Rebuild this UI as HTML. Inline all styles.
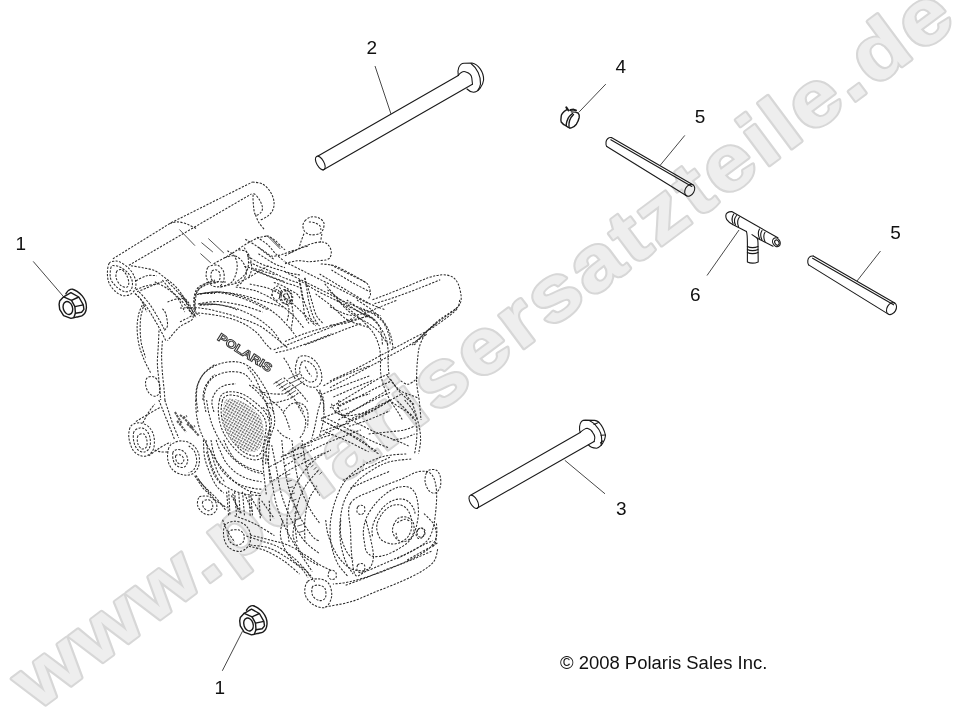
<!DOCTYPE html>
<html><head><meta charset="utf-8"><style>
html,body{margin:0;padding:0;background:#fff;width:955px;height:712px;overflow:hidden}
svg{display:block;position:absolute;left:0;top:0;filter:grayscale(1)}
.t{font-family:"Liberation Sans",sans-serif;fill:#111}
.p{fill:none;stroke:#1a1a1a;stroke-width:1.1;stroke-linecap:round;stroke-linejoin:round}
.l{fill:none;stroke:#333;stroke-width:0.9}
.e path{fill:none;stroke:#2a2a2a;stroke-width:1.05;stroke-dasharray:2.2 1.4;stroke-linecap:butt;stroke-linejoin:round}
.es path{fill:none;stroke:#444;stroke-width:0.9;stroke-linecap:round}
</style></head><body>
<svg width="955" height="712" viewBox="0 0 955 712">
<!-- WATERMARK -->
<text id="wm" transform="translate(36.4,711.6) rotate(-36.7) scale(1.12,1)" font-family="Liberation Sans" font-weight="bold" font-size="78" letter-spacing="3.15" fill="#d7d7d7" stroke="#d7d7d7" stroke-width="4" stroke-linejoin="round">www.polarisersatzteile.de</text>
<text transform="translate(36.4,711.6) rotate(-36.7) scale(1.12,1)" font-family="Liberation Sans" font-weight="bold" font-size="78" letter-spacing="3.15" fill="#eeeeee">www.polarisersatzteile.de</text>
<!-- ENGINE -->
<g class="e">
<path d="M112.9,258.8 L170.8,222.9 L252.5,182"/>
<path d="M252.5,182 C254.2,182.3 259.5,182.3 262.5,184 C265.5,185.6 268.5,188.9 270.4,191.9 C272.4,194.9 273.7,198.8 274,201.9 C274.4,205.1 273.7,208.4 272.4,210.9 C271.2,213.4 268.5,215.4 266.5,216.9 C264.5,218.4 261.5,219.4 260.5,219.9"/>
<path d="M128.9,265.3 L251.5,193.9"/>
<path d="M253.5,193.9 C254.5,192.9 258,197.6 259.5,199.9 C261,202.2 262.3,205.7 262.5,207.9 C262.6,210.1 261.6,211.7 260.5,212.9 C259.3,214 256.7,216 255.5,214.9 C254.3,213.7 253.8,209.4 253.5,205.9 C253.2,202.4 252.5,194.9 253.5,193.9Z"/>
<path d="M255.5,214.9 C256,216 257,219.4 258.5,221.9 C260,224.3 263.5,228.5 264.5,229.8"/>
<path d="M169.8,223.4 C171.3,223.2 175.6,221.6 178.7,221.9 C181.9,222.1 185.7,223.7 188.7,224.8 C191.7,226 195.3,228.2 196.7,228.8"/>
<path d="M109.1,263.4 C108,265.4 107.4,269.9 107.4,273.2 C107.4,276.5 107.8,279.9 109.1,283 C110.4,286.1 113.2,289.4 115.5,291.5 C117.8,293.6 120.5,295.3 123.2,295.7 C125.9,296.1 129.5,295.1 131.6,293.6 C133.7,292.1 135.3,289.3 135.8,286.5 C136.3,283.7 135.6,279.7 134.4,276.7 C133.2,273.7 131.2,270.8 128.8,268.3 C126.4,265.8 122.2,263.1 119.7,261.9 C117.2,260.7 115.9,260.9 114.1,261.2 C112.3,261.4 110.2,261.4 109.1,263.4Z"/>
<path d="M111.2,266.9 C110.4,268.9 109.7,274.8 110.5,278.1 C111.3,281.4 113.9,284.3 116.2,286.5 C118.5,288.7 122.1,290.9 124.6,291.5 C127,292.1 129.6,291.6 130.9,290 C132.2,288.4 132.8,284.4 132.3,281.6 C131.8,278.8 130,275.5 128.1,273.2 C126.2,270.9 123.2,268.8 121.1,267.6 C119,266.4 117.2,265.9 115.5,265.8 C113.8,265.7 112,264.8 111.2,266.9Z"/>
<path d="M116.9,271.1 C116,272.5 115.6,275.8 116.2,278.1 C116.8,280.4 118.7,283.6 120.4,285.1 C122.2,286.6 125.3,287.6 126.7,287.2 C128.1,286.8 128.8,285 128.8,283 C128.8,281 127.9,277.5 126.7,275.3 C125.5,273.1 123.4,270.4 121.8,269.7 C120.2,269 117.8,269.7 116.9,271.1Z"/>
<path d="M130.9,265.7 C132.9,266.1 138.9,266.9 142.8,267.7 C146.8,268.6 151.2,269.1 154.8,270.7 C158.5,272.4 161.5,275.2 164.8,277.7 C168.1,280.2 171.8,282.7 174.7,285.7 C177.7,288.7 180.4,292.3 182.7,295.6 C185,299 187.4,302.9 188.7,305.6 C190,308.3 190.4,310.9 190.7,312"/>
<path d="M135.9,280.7 C137.7,279.9 143.3,276.5 146.8,275.7 C150.3,274.9 155.1,275.7 156.8,275.7"/>
<path d="M135.9,289.7 C137.7,289 143,286.7 146.8,285.7 C150.7,284.7 156.8,284 158.8,283.7"/>
<path d="M134.9,293.7 C135.9,294.6 138.9,296.6 140.9,299.6 C142.8,302.7 145.8,309.9 146.8,312"/>
<path d="M154.8,281.7 C157.1,283 164.8,286.7 168.8,289.7 C172.8,292.7 176.1,295.9 178.7,299.6 C181.4,303.4 183.7,309.9 184.7,312"/>
<path d="M194.7,312 C194.9,309.6 195,301.4 195.7,297.6 C196.3,293.9 196.8,291.8 198.7,289.7 C200.5,287.5 203.7,285.8 206.6,284.7 C209.6,283.5 215,283 216.6,282.7"/>
<path d="M196.7,294.6 C199.7,294.2 208.3,292.2 214.6,292.1 C220.9,291.9 227.2,292.4 234.6,293.7 C241.9,294.9 250.1,297.3 258.5,299.6 C266.9,302 280.6,306.3 285,307.6"/>
<path d="M198.7,303.6 C202,303.3 211.3,301.3 218.6,301.6 C225.9,302 235.2,303.9 242.5,305.6 C249.8,307.3 259.1,310.9 262.5,312"/>
<path d="M207.6,267.7 C206.6,269.6 205.8,273.9 206.2,276.7 C206.7,279.5 208.6,283 210.6,284.7 C212.7,286.3 216.4,287.3 218.6,286.7 C220.8,286 222.8,283.2 223.6,280.7 C224.4,278.2 224.4,274.2 223.6,271.7 C222.8,269.2 220.4,266.8 218.6,265.7 C216.8,264.7 214.5,265 212.6,265.3 C210.8,265.7 208.7,265.8 207.6,267.7Z"/>
<path d="M211.6,271.7 C210.9,273.2 210.6,276.9 211.2,278.7 C211.9,280.5 214.2,282.5 215.6,282.7 C217,282.8 218.9,281.4 219.6,279.7 C220.3,278 220.3,274.4 219.6,272.7 C218.9,271 216.9,269.9 215.6,269.7 C214.3,269.6 212.4,270.2 211.6,271.7Z"/>
<path d="M213.6,263.7 C215.5,262.7 221.1,259.7 224.6,257.8 C228.1,255.8 230.9,254.1 234.6,251.8 C238.2,249.4 242.5,246.1 246.5,243.8 C250.5,241.5 254.8,239.1 258.5,237.8 C262.1,236.5 266.8,236.1 268.5,235.8"/>
<path d="M220.6,286.7 C222.9,286.2 230.2,285 234.6,283.7 C238.9,282.4 242.5,280.7 246.5,278.7 C250.5,276.7 254.8,273.9 258.5,271.7 C262.1,269.6 266.8,266.7 268.5,265.7"/>
<path d="M224.6,257.8 C226.3,257.4 231.6,255.1 234.6,255.8 C237.5,256.4 240.5,259.1 242.5,261.7 C244.5,264.4 246.5,268.4 246.5,271.7 C246.5,275 244.2,279.4 242.5,281.7 C240.9,284 237.5,285 236.6,285.7"/>
<path d="M238.5,249.8 C239.9,250.1 244.5,250.1 246.5,251.8 C248.5,253.4 249.7,256.8 250.5,259.7 C251.3,262.7 251.8,266.7 251.5,269.7 C251.2,272.7 249,276.4 248.5,277.7"/>
<path d="M266.5,235.8 C267.8,236.5 271.8,237.8 274.4,239.8 C277.1,241.8 280.6,246.1 282.4,247.8 C284.2,249.4 284.6,249.4 285,249.8"/>
<path d="M258.5,253.8 C261.1,255.4 270,261.4 274.4,263.7 C278.9,266.1 283.2,267.1 285,267.7"/>
<path d="M254.5,269.7 C256.8,270.7 263.4,273.7 268.5,275.7 C273.5,277.7 282.2,280.7 285,281.7"/>
<path d="M304.9,220.9 C306.3,219.4 308.6,217.4 310.9,216.9 C313.2,216.4 316.7,216.9 318.9,217.9 C321.1,218.9 323.2,220.9 323.9,222.9 C324.5,224.8 323.7,228 322.9,229.8 C322,231.7 320.9,233 318.9,233.8 C316.9,234.7 313.2,235.1 310.9,234.8 C308.6,234.5 306.3,233.3 304.9,231.8 C303.6,230.3 302.9,227.7 302.9,225.8 C302.9,224 303.6,222.4 304.9,220.9Z"/>
<path d="M308.9,221.9 C309.9,222 313.1,222.2 314.9,222.9 C316.7,223.5 318.9,224.7 319.9,225.8 C320.9,227 320.7,229.2 320.9,229.8"/>
<path d="M303.9,233.8 C303.4,235.1 301.8,239.3 300.9,241.8 C300.1,244.3 299.3,247.6 299,248.8"/>
<path d="M321.9,233.8 C321.7,234.8 321.2,238.3 320.9,239.8 C320.6,241.3 320.1,242.3 319.9,242.8"/>
<path d="M285,255.8 C287.7,254.4 296,249.9 300.9,247.8 C305.9,245.6 311.1,243.7 314.9,242.8 C318.7,241.9 321.6,241.7 323.9,242.2 C326.2,242.7 327.6,244.2 328.9,245.8 C330.1,247.4 331.1,249.8 331.3,251.8 C331.4,253.8 330.8,256.4 329.9,257.8 C329,259.1 326.5,259.7 325.9,260.1"/>
<path d="M285,263.7 C287,263.2 293,261.1 297,260.7 C300.9,260.4 305.3,261.7 308.9,261.7 C312.6,261.7 316.1,261 318.9,260.7 C321.7,260.5 324.7,260.2 325.9,260.1"/>
<path d="M289,253.4 C290.6,252.6 295.6,250 299,248.8 C302.3,247.5 307.3,246.3 308.9,245.8"/>
<path d="M372.5,299.7 C375.2,298.7 382.5,296 388.5,293.7 C394.4,291.4 401.7,288.4 408.4,285.8 C415,283.1 422.6,279.6 428.2,277.8 C433.9,276 438.2,275 442.2,274.8 C446.2,274.7 449.5,275.3 452.1,276.8 C454.8,278.3 456.6,280.6 458.1,283.8 C459.6,286.9 460.7,292.4 461.1,295.7 C461.4,299 461.1,301.3 460.1,303.7 C459.1,306 455.9,308.6 455.1,309.6"/>
<path d="M374.5,303.7 C378.2,302.5 388.8,299.4 396.4,296.7 C404,294.1 413,290.6 420.3,287.8 C427.6,284.9 436.9,281.1 440.2,279.8"/>
<path d="M455.1,309.6 C453.3,310.9 448,314.8 444.2,317.6 C440.3,320.4 435.9,323.5 432.2,326.5 C428.6,329.5 425.6,332.4 422.3,335.5 C419,338.5 414,343.4 412.3,345"/>
<path d="M436.2,323.5 C434.2,325.2 427.9,329.9 424.3,333.5 C420.6,337.1 416,343.1 414.3,345"/>
<path d="M320.8,263.9 C323.1,264.2 329.8,264.2 334.7,265.9 C339.7,267.6 345.7,271.2 350.7,273.8 C355.6,276.5 361.6,279.8 364.6,281.8 C367.6,283.8 367.6,283.8 368.6,285.8 C369.6,287.8 370.5,291.6 370.5,293.7 C370.5,295.9 368.9,297.9 368.6,298.7"/>
<path d="M330.8,264.9 L366.6,282.8"/>
<path d="M285,261.9 C288.3,263.6 298.3,268.5 304.9,271.9 C311.5,275.2 318.2,278.5 324.8,281.8 C331.4,285.1 338.1,288.4 344.7,291.7 C351.3,295 357.9,298.7 364.6,301.7 C371.2,304.7 381.2,308.3 384.5,309.6"/>
<path d="M285,271.9 C288.3,273.5 298.3,278.5 304.9,281.8 C311.5,285.1 318.2,288.4 324.8,291.7 C331.4,295 338.1,298.7 344.7,301.7 C351.3,304.7 358.6,307.3 364.6,309.6 C370.5,311.9 377.8,314.6 380.5,315.6"/>
<path d="M298.9,279.8 C301.6,281.5 308.9,286.4 314.8,289.7 C320.8,293.1 328.1,296.4 334.7,299.7 C341.4,303 348,306.3 354.6,309.6 C361.3,312.9 371.2,317.9 374.5,319.6"/>
<path d="M324.8,283.8 C326.4,285.8 331.4,291.7 334.7,295.7 C338.1,299.7 341.4,304.3 344.7,307.6 C348,310.9 350.7,312.9 354.6,315.6 C358.6,318.2 364.6,320.9 368.6,323.5 C372.5,326.2 375.2,327.9 378.5,331.5 C381.8,335.1 386.8,342.7 388.5,345"/>
<path d="M360.6,309.6 C362.6,310.3 368.9,311.6 372.5,313.6 C376.2,315.6 379.8,318.2 382.5,321.5 C385.1,324.9 387.1,329.6 388.5,333.5 C389.8,337.4 390.1,343.1 390.4,345"/>
<path d="M364.6,313.6 C366.2,314.6 371.9,316.9 374.5,319.6 C377.2,322.2 379.2,325.3 380.5,329.5 C381.8,333.7 382.2,342.4 382.5,345"/>
<path d="M298.9,279.8 C299.3,281.5 300.3,286.1 300.9,289.7 C301.6,293.4 302.2,297.4 302.9,301.7 C303.6,306 303.9,311.9 304.9,315.6 C305.9,319.2 308.2,322.2 308.9,323.5"/>
<path d="M304.9,277.8 C305.2,279.8 306.2,285.8 306.9,289.7 C307.5,293.7 307.9,297.4 308.9,301.7 C309.9,306 311.2,311.6 312.9,315.6 C314.5,319.6 317.8,323.9 318.8,325.5"/>
<path d="M285,341.4 C288.3,340.1 298.3,335.8 304.9,333.5 C311.5,331.2 318.2,329.5 324.8,327.5 C331.4,325.5 339.7,323.2 344.7,321.5 C349.7,319.9 353,318.2 354.6,317.6"/>
<path d="M304.9,345 C308.2,343.7 318.2,340 324.8,337.4 C331.4,334.9 338.7,331.8 344.7,329.5 C350.7,327.2 357.9,324.5 360.6,323.5"/>
<path d="M285,289.7 C286,291.7 289.6,297.4 291,301.7 C292.3,306 293,310.9 293,315.6 C293,320.2 291.3,327.2 291,329.5"/>
<path d="M285,297.7 C285.7,299.7 288.6,305.6 289,309.6 C289.3,313.6 287.3,319.6 287,321.5"/>
<path d="M194,309.9 C194,307.9 193.5,301.4 194,297.9 C194.5,294.4 195.3,291.3 196.9,288.9 C198.6,286.6 201.4,285.1 203.9,284 C206.4,282.8 208.2,282.3 211.9,282 C215.6,281.6 223.5,282 225.9,282"/>
<path d="M197.9,293.9 C201.6,293.6 212.9,291.6 219.9,291.9 C226.9,292.3 233.2,293.9 239.8,295.9 C246.5,297.9 253.8,300.9 259.7,303.9 C265.7,306.9 271,310.2 275.7,313.9 C280.3,317.5 284.3,322.2 287.7,325.8 C291,329.5 294.3,334.2 295.6,335.8"/>
<path d="M197.9,303.9 C201.6,304.1 212.9,303.9 219.9,304.9 C226.9,305.9 233.2,307.4 239.8,309.9 C246.5,312.4 254.1,316.2 259.7,319.9 C265.4,323.5 270,327.8 273.7,331.8 C277.4,335.8 280.3,341.8 281.7,343.8"/>
<path d="M197.9,312.9 C201.6,313.4 212.9,314.4 219.9,315.9 C226.9,317.4 233.8,319.2 239.8,321.9 C245.8,324.5 251.4,328.2 255.8,331.8 C260.1,335.5 263.1,340.8 265.7,343.8 C268.4,346.8 270.7,348.8 271.7,349.8"/>
<path d="M235.8,287 C239.1,287.6 249.4,288.8 255.8,290.9 C262.1,293.1 267.7,296.1 273.7,299.9 C279.7,303.7 286.7,309.2 291.6,313.9 C296.6,318.5 301.6,325.5 303.6,327.8"/>
<path d="M249.8,284 C253.1,284.8 263.7,286.6 269.7,288.9 C275.7,291.3 280.7,294.4 285.7,297.9 C290.7,301.4 294.6,305.2 299.6,309.9 C304.6,314.5 312.9,323.2 315.6,325.8"/>
<path d="M180,293.9 C181.3,295.3 186,299.3 188,301.9 C190,304.6 190.6,307.2 192,309.9 C193.3,312.5 195.3,316.5 195.9,317.9"/>
<path d="M180,321.9 C181.3,321.2 185.3,319.2 188,317.9 C190.6,316.5 194,314.2 195.9,313.9 C197.9,313.5 199.3,315.5 199.9,315.9"/>
<path d="M280.7,291.9 C280.2,293.3 279.4,296.1 279.7,297.9 C280,299.7 281.3,301.9 282.7,302.9 C284,303.9 286.2,304.4 287.7,303.9 C289.2,303.4 291.1,301.6 291.6,299.9 C292.1,298.3 291.5,295.6 290.7,293.9 C289.8,292.3 288,290.6 286.7,289.9 C285.3,289.3 283.7,289.6 282.7,289.9 C281.7,290.3 281.2,290.6 280.7,291.9Z"/>
<path d="M283.7,294.9 C283.3,295.9 284,298.9 284.7,299.9 C285.3,300.9 286.9,301.4 287.7,300.9 C288.4,300.4 289.4,298.1 289.3,296.9 C289.1,295.8 287.6,294.3 286.7,293.9 C285.7,293.6 284,293.9 283.7,294.9Z"/>
<path d="M271.7,295.9 C272,294.8 272.7,290.6 273.7,288.9 C274.7,287.3 276.5,286 277.7,286 C278.9,286 280.2,288.4 280.7,288.9"/>
<path d="M299.6,280 C300,281.6 301,286.6 301.6,289.9 C302.3,293.3 302.6,296.6 303.6,299.9 C304.6,303.2 306.3,306.6 307.6,309.9 C308.9,313.2 309.6,317.2 311.6,319.9 C313.6,322.5 318.2,324.8 319.6,325.8"/>
<path d="M304.6,278 C305.3,280 307.3,285.6 308.6,289.9 C309.9,294.3 311.3,299.6 312.6,303.9 C313.9,308.2 314.7,312.5 316.6,315.9 C318.4,319.2 322.4,322.5 323.5,323.8"/>
<path d="M319.6,274 C322.9,276 332.9,282 339.5,286 C346.1,289.9 354.3,294.9 359.4,297.9 C364.5,300.9 368.2,302.9 370,303.9"/>
<path d="M331.5,270 C334.8,272 345,278.3 351.5,282 C357.9,285.6 366.9,290.3 370,291.9"/>
<path d="M327.5,289.9 C330.2,291.9 338.2,298.3 343.5,301.9 C348.8,305.6 355,309.2 359.4,311.9 C363.9,314.5 368.2,316.9 370,317.9"/>
<path d="M315.6,293.9 C318.2,295.9 326.2,301.6 331.5,305.9 C336.8,310.2 341.1,316.2 347.5,319.9 C353.9,323.5 366.2,326.5 370,327.8"/>
<path d="M273.7,349.8 C276.4,348.8 283.7,346.1 289.7,343.8 C295.6,341.5 302.9,338.5 309.6,335.8 C316.2,333.2 323.5,330.2 329.5,327.8 C335.5,325.5 338.7,323.8 345.5,321.9 C352.2,319.9 365.9,316.9 370,315.9"/>
<path d="M275.7,352.8 C278.4,352.1 285.7,350.6 291.6,348.8 C297.6,346.9 304.9,344.3 311.6,341.8 C318.2,339.3 328.2,335.1 331.5,333.8"/>
<path d="M323.5,385.7 C326.2,384.3 333.5,380.4 339.5,377.7 C345.5,375 354.3,371.7 359.4,369.7 C364.5,367.7 368.2,366.4 370,365.7"/>
<path d="M323.5,393.7 C326.9,392.3 335.7,388.7 343.5,385.7 C351.2,382.7 365.6,377.4 370,375.7"/>
<path d="M197.9,412 C197.6,408.9 195.8,398.7 195.9,393.7 C196.1,388.6 197.3,385.3 198.9,381.7 C200.6,378 202.4,374.7 205.9,371.7 C209.4,368.7 214.9,365.4 219.9,363.7 C224.9,362.1 231.2,361.4 235.8,361.7 C240.5,362.1 244.5,363.7 247.8,365.7 C251.1,367.7 253.1,370.4 255.8,373.7 C258.4,377 261.4,381.7 263.7,385.7 C266.1,389.7 268.1,393.3 269.7,397.6 C271.4,402 273,409.6 273.7,412"/>
<path d="M205.9,412 C205.6,409.6 203.6,402.4 203.9,397.6 C204.3,392.9 205.9,387.3 207.9,383.7 C209.9,380 212.2,377.7 215.9,375.7 C219.5,373.7 225.2,372 229.8,371.7 C234.5,371.4 240.1,372 243.8,373.7 C247.5,375.4 250.4,380.4 251.8,381.7"/>
<path d="M213.9,412 C213.6,410.3 211.6,405 211.9,401.6 C212.2,398.2 213.9,394.3 215.9,391.7 C217.9,389 220.5,387 223.9,385.7 C227.2,384.3 233.8,384 235.8,383.7"/>
<path d="M275.7,381.7 C277.7,383.3 283.7,387.7 287.7,391.7 C291.6,395.6 297,402.2 299.6,405.6 C302.3,409 302.9,410.9 303.6,412"/>
<path d="M283.7,377.7 C286,379.7 293.6,385.7 297.6,389.7 C301.6,393.7 305.9,399.6 307.6,401.6"/>
<path d="M319.6,389.7 C320.2,391.3 322.9,395.9 323.5,399.6 C324.2,403.4 323.5,409.9 323.5,412"/>
<path d="M335.5,412 C336.2,410.9 336.8,407.7 339.5,405.6 C342.2,403.6 346.4,401.6 351.5,399.6 C356.5,397.6 366.9,394.6 370,393.7"/>
<path d="M296.9,360.9 C296.2,363.2 295,367.5 295.5,370.7 C295.9,374 297.6,378 299.7,380.6 C301.8,383.1 305.3,385.1 308.1,386.2 C310.9,387.2 314.3,387.8 316.5,386.9 C318.8,385.9 320.7,383.3 321.5,380.6 C322.2,377.9 321.8,374 320.7,370.7 C319.7,367.5 317.5,363.4 315.1,360.9 C312.8,358.4 309.3,356.7 306.7,356 C304.1,355.3 301.3,355.9 299.7,356.7 C298,357.5 297.6,358.6 296.9,360.9Z"/>
<path d="M301.1,363.7 C300.4,365.3 299.3,368.4 299.7,370.7 C300,373.1 301.5,375.9 303.2,377.8 C304.8,379.6 307.5,381.5 309.5,382 C311.5,382.4 313.8,381.7 315.1,380.6 C316.4,379.4 317.2,377.1 317.2,374.9 C317.2,372.8 316.4,370 315.1,367.9 C313.8,365.8 311.4,363.5 309.5,362.3 C307.6,361.1 305.3,360.7 303.9,360.9 C302.5,361.1 301.8,362.1 301.1,363.7Z"/>
<path d="M305.3,366.5 C305.8,367.5 307,370.5 308.1,372.1 C309.2,373.8 311,375.6 311.6,376.3"/>
<path d="M129.9,427.9 C129.1,430.2 128.4,434.2 128.9,437.9 C129.4,441.5 130.9,446.9 132.9,449.9 C134.9,452.9 138.2,455 140.9,455.8 C143.5,456.7 146.7,456.2 148.8,454.8 C151,453.5 153,451 153.8,447.9 C154.6,444.7 154.6,439.4 153.8,435.9 C153,432.4 151,429.1 148.8,426.9 C146.7,424.8 143.3,423.4 140.9,422.9 C138.4,422.4 135.7,423.1 133.9,423.9 C132,424.8 130.7,425.6 129.9,427.9Z"/>
<path d="M133.9,431.9 C132.9,434.2 133.2,438.9 133.9,441.9 C134.5,444.9 136,448.2 137.9,449.9 C139.7,451.5 142.8,452.4 144.8,451.9 C146.8,451.4 149,449.4 149.8,446.9 C150.7,444.4 150.5,439.7 149.8,436.9 C149.2,434.1 147.5,431.4 145.8,429.9 C144.2,428.4 141.9,427.6 139.9,427.9 C137.9,428.3 134.9,429.6 133.9,431.9Z"/>
<path d="M137.9,435.9 C136.9,437.6 137.2,441.7 137.9,443.9 C138.5,446 140.4,448.4 141.9,448.9 C143.3,449.4 145.6,448.4 146.4,446.9 C147.3,445.4 147.3,442 146.8,439.9 C146.4,437.7 145.3,434.6 143.8,433.9 C142.4,433.2 138.9,434.2 137.9,435.9Z"/>
<path d="M135.9,421.5 C137.7,420.4 142.7,417.4 146.8,415 C151,412.5 158.5,408.3 160.8,407"/>
<path d="M148.8,455.8 C150.2,454.8 153.8,451.9 156.8,449.9 C159.8,447.9 164.4,445 166.8,443.9 C169.1,442.7 170.1,443 170.8,442.9"/>
<path d="M168.8,447.9 C167.8,450.7 167.1,456.2 167.8,459.8 C168.4,463.5 170.3,467.3 172.8,469.8 C175.2,472.3 179.4,474.1 182.7,474.8 C186,475.5 190,475.3 192.7,473.8 C195.3,472.3 197.7,469.1 198.7,465.8 C199.7,462.5 199.7,457.3 198.7,453.8 C197.7,450.4 195.3,447 192.7,444.9 C190,442.7 185.9,441.2 182.7,440.9 C179.6,440.6 176.1,441.7 173.8,442.9 C171.4,444 169.8,445 168.8,447.9Z"/>
<path d="M172.8,452.9 C172.4,454.8 172.8,459.5 173.8,461.8 C174.7,464.2 176.9,466 178.7,466.8 C180.6,467.6 183.2,467.8 184.7,466.8 C186.2,465.8 187.5,463 187.7,460.8 C187.9,458.7 186.9,455.7 185.7,453.8 C184.6,452 182.4,450.5 180.7,449.9 C179.1,449.2 177.1,449.4 175.7,449.9 C174.4,450.4 173.1,450.9 172.8,452.9Z"/>
<path d="M175.7,455.8 C175.2,457 175.9,460.5 176.7,461.8 C177.6,463.2 179.6,464 180.7,463.8 C181.9,463.7 183.4,462 183.7,460.8 C184.1,459.7 183.4,457.8 182.7,456.8 C182.1,455.8 180.9,455 179.7,454.8 C178.6,454.7 176.2,454.7 175.7,455.8Z"/>
<path d="M188.7,445.9 C189.7,446.9 193.4,449.2 194.7,451.9 C196,454.5 196.8,458.8 196.7,461.8 C196.5,464.8 195,468 193.7,469.8 C192.4,471.6 189.5,472.3 188.7,472.8"/>
<path d="M158.8,400 C159.5,401.7 161.5,406.6 162.8,410 C164.1,413.3 165.4,416.6 166.8,419.9 C168.1,423.3 169.4,426.6 170.8,429.9 C172.1,433.2 174.1,438.2 174.7,439.9"/>
<path d="M164.8,400 C165.4,402 167.4,408 168.8,412 C170.1,416 171.1,419.6 172.8,423.9 C174.4,428.3 177.7,435.6 178.7,437.9"/>
<path d="M195.7,400 C195.8,402.7 195.8,410.6 196.7,416 C197.5,421.3 198.7,426.6 200.7,431.9 C202.7,437.2 205.7,442.5 208.6,447.9 C211.6,453.2 214.6,458.5 218.6,463.8 C222.6,469.1 227.9,475.5 232.6,479.8 C237.2,484.1 241.9,487.4 246.5,489.7 C251.2,492.1 258.2,493.1 260.5,493.7"/>
<path d="M206.6,400 C207,402 207.6,407.6 208.6,412 C209.6,416.3 210.6,420.9 212.6,425.9 C214.6,430.9 217.6,436.9 220.6,441.9 C223.6,446.9 226.9,451.9 230.6,455.8 C234.2,459.8 238.5,463.2 242.5,465.8 C246.5,468.5 250.8,470.5 254.5,471.8 C258.2,473.1 262.8,473.5 264.5,473.8"/>
<path d="M198.7,497.7 C197.7,499.3 197,503.2 197.7,505.7 C198.3,508.2 200.5,511.2 202.7,512.7 C204.8,514.2 208.3,515.2 210.6,514.7 C213,514.2 215.8,511.9 216.6,509.7 C217.4,507.5 216.8,503.9 215.6,501.7 C214.5,499.6 211.6,497.7 209.6,496.7 C207.6,495.8 205.5,496 203.7,496.1 C201.8,496.3 199.7,496.1 198.7,497.7Z"/>
<path d="M202.7,501.7 C202,503 202.7,506.2 203.7,507.7 C204.7,509.2 207.1,510.7 208.6,510.7 C210.1,510.7 212.1,509.2 212.6,507.7 C213.1,506.2 212.5,503 211.6,501.7 C210.8,500.4 209.1,499.7 207.6,499.7 C206.1,499.7 203.3,500.4 202.7,501.7Z"/>
<path d="M198.7,479.8 L206.6,489.7 L214.6,499.7 L226.6,507.7"/>
<path d="M194.7,475.8 L202.7,487.8 L210.6,495.7"/>
<path d="M206.6,451.9 C207.3,454.2 209.3,461.8 210.6,465.8 C212,469.8 213,472.8 214.6,475.8 C216.3,478.8 219.6,482.4 220.6,483.8"/>
<path d="M210.6,449.9 C211.3,452.2 213.3,459.8 214.6,463.8 C216,467.8 216.9,470.8 218.6,473.8 C220.3,476.8 223.6,480.4 224.6,481.8"/>
<path d="M262.5,459.8 C262.8,463.2 263.8,473.8 264.5,479.8 C265.1,485.8 266.1,493.1 266.5,495.7"/>
<path d="M270.4,429.9 C270.1,434.9 268.5,450.9 268.5,459.8 C268.5,468.8 270.1,479.8 270.4,483.8"/>
<path d="M222.6,519.7 C223.3,521.3 224.6,525.9 226.6,529.6 C228.6,533.4 233.2,539.9 234.6,542"/>
<path d="M234.6,515.7 C237.9,517 247.9,520.3 254.5,523.7 C261.1,527 271.1,533.6 274.4,535.6"/>
<path d="M226.6,491.7 L228.6,515.7"/>
<path d="M234.6,491.7 L236.6,515.7"/>
<path d="M242.5,491.7 L244.5,515.7"/>
<path d="M250.5,491.7 L252.5,515.7"/>
<path d="M232.6,493.7 L238.5,511.7"/>
<path d="M244.5,493.7 L252.5,511.7"/>
<path d="M142.8,422.9 C143.8,421.1 146.8,415.1 148.8,412 C150.8,408.8 153.8,405.3 154.8,404"/>
<path d="M154.8,449.9 C155.8,450.2 158.5,451.5 160.8,451.9 C163.1,452.2 167.4,451.9 168.8,451.9"/>
<path d="M285,455.8 C288.3,453.8 298.3,447.5 304.9,443.9 C311.6,440.2 318.2,437.2 324.9,433.9 C331.5,430.6 338.2,427.3 344.8,423.9 C351.5,420.6 358.8,417 364.7,414 C370.7,411 376.4,408.3 380.7,406 C385,403.7 389,401 390.7,400"/>
<path d="M285,465.8 C288.3,463.8 298.3,457.5 304.9,453.8 C311.6,450.2 318.2,446.9 324.9,443.9 C331.5,440.9 338.8,438.2 344.8,435.9 C350.8,433.6 358.1,430.9 360.8,429.9"/>
<path d="M320.9,419.9 C324.2,421.6 334.2,426.6 340.8,429.9 C347.5,433.2 355.4,436.6 360.8,439.9 C366.1,443.2 369.7,447.5 372.7,449.9 C375.7,452.2 377.7,453.2 378.7,453.8"/>
<path d="M324.9,431.9 C328.2,433.2 338.8,437.2 344.8,439.9 C350.8,442.5 356.8,445.9 360.8,447.9 C364.7,449.9 367.4,451.2 368.7,451.9"/>
<path d="M334.8,412 C338.2,413.6 348.1,418.6 354.8,421.9 C361.4,425.3 368.1,428.9 374.7,431.9 C381.4,434.9 389,437.6 394.7,439.9 C400.3,442.2 406.3,444.9 408.6,445.9"/>
<path d="M338.8,400 C338.8,401.7 337.8,407 338.8,410 C339.8,413 343.8,416.6 344.8,417.9"/>
<path d="M388.7,400 C390.7,401.3 396.6,405.3 400.6,408 C404.6,410.6 409.9,413 412.6,416 C415.3,418.9 415.9,421.9 416.6,425.9 C417.2,429.9 416.9,435.2 416.6,439.9 C416.3,444.5 414.9,451.5 414.6,453.8"/>
<path d="M404.6,400 C406,401.7 410.3,406 412.6,410 C414.9,414 417.2,418.9 418.6,423.9 C419.9,428.9 420.6,434.9 420.6,439.9 C420.6,444.9 418.9,451.5 418.6,453.8"/>
<path d="M368.7,433.9 C372.1,433.6 382.7,432.6 388.7,431.9 C394.7,431.2 400.3,430.9 404.6,429.9 C408.9,428.9 412.9,426.6 414.6,425.9"/>
<path d="M392.7,439.9 C394.7,439.6 401,438.9 404.6,437.9 C408.3,436.9 412.9,434.6 414.6,433.9"/>
<path d="M289,542 C288.7,538.3 286.7,527.4 287,519.7 C287.3,512 288.7,503 291,495.7 C293.3,488.4 297,481.8 300.9,475.8 C304.9,469.8 309.9,464.2 314.9,459.8 C319.9,455.5 328.2,451.5 330.9,449.9"/>
<path d="M297,542 C296.6,538.3 294.6,526.7 295,519.7 C295.3,512.6 297,505.7 299,499.7 C300.9,493.7 303.6,488.8 306.9,483.8 C310.3,478.8 316.9,472.1 318.9,469.8"/>
<path d="M304.9,542 C304.9,538.3 304.3,526.7 304.9,519.7 C305.6,512.6 306.9,505.4 308.9,499.7 C310.9,494.1 315.6,488.1 316.9,485.8"/>
<path d="M406.2,453.9 C402.4,454.3 390.6,454.5 383.4,456.4 C376.3,458.3 369.5,461.3 363.2,465.3 C356.9,469.3 350.1,474.6 345.5,480.4 C340.9,486.3 337.9,493.5 335.4,500.7 C332.9,507.8 331,515.8 330.3,523.4 C329.7,531 330.3,539.4 331.6,546.2 C332.9,552.9 335.2,558.8 337.9,563.9 C340.7,568.9 346.3,574.4 348,576.5"/>
<path d="M411.2,459 C407.8,459.4 396.9,460 391,461.5 C385.1,463 381.3,464.6 375.8,467.8 C370.4,471 363.2,475.4 358.1,480.4 C353.1,485.5 348.4,491.8 345.5,498.1 C342.5,504.5 341.3,511.2 340.4,518.4 C339.6,525.5 339.6,534 340.4,541.1 C341.3,548.3 343.4,555.9 345.5,561.3 C347.6,566.8 351.8,571.9 353.1,574"/>
<path d="M350.6,503.2 C354.8,496.2 367.4,493.3 375.8,489.3 C384.3,485.3 393.9,482.1 401.1,479.2 C408.3,476.2 413.7,472.4 418.8,471.6 C423.9,470.8 428.5,471 431.4,474.1 C434.4,477.3 435.9,483.6 436.5,490.6 C437.1,497.5 436.1,508.7 435.2,515.8 C434.4,523 433.3,528.9 431.4,533.5 C429.5,538.2 428.1,540.3 423.9,543.7 C419.6,547 412.9,550.4 406.2,553.8 C399.4,557.1 390.2,560.9 383.4,563.9 C376.7,566.8 370.4,569.6 365.7,571.5 C361.1,573.4 357.9,577.8 355.6,575.3 C353.3,572.7 352.7,563.7 351.8,556.3 C351,548.9 350.8,539.9 350.6,531 C350.3,522.2 346.3,510.2 350.6,503.2Z"/>
<path d="M357.6,507 C357,508.1 356.6,510.8 357.1,512.1 C357.6,513.3 359.4,514.6 360.7,514.6 C361.9,514.6 363.8,513.3 364.5,512.1 C365.1,510.8 365,508.1 364.5,507 C363.9,505.9 362.3,505.2 361.2,505.2 C360,505.2 358.3,505.9 357.6,507Z"/>
<path d="M417.8,529.7 C417.1,530.9 416.8,533.5 417.3,534.8 C417.8,536.1 419.6,537.3 420.8,537.3 C422,537.3 424,536.1 424.6,534.8 C425.2,533.5 425.2,530.9 424.6,529.7 C424.1,528.6 422.5,528 421.3,528 C420.2,528 418.5,528.6 417.8,529.7Z"/>
<path d="M357.6,565.1 C357,566.3 356.6,568.9 357.1,570.2 C357.6,571.5 359.4,572.7 360.7,572.7 C361.9,572.7 363.8,571.5 364.5,570.2 C365.1,568.9 365,566.3 364.5,565.1 C363.9,564 362.3,563.4 361.2,563.4 C360,563.4 358.3,564 357.6,565.1Z"/>
<path d="M426.4,472.9 C425.5,474.8 424.7,478.8 425.1,481.7 C425.5,484.7 427.2,488.7 428.9,490.6 C430.6,492.5 433.3,493.7 435.2,493.1 C437.1,492.5 439.4,489.5 440.3,486.8 C441.1,484 440.9,479.4 440.3,476.7 C439.7,473.9 438.2,471.5 436.5,470.3 C434.8,469.2 431.9,469.4 430.2,469.8 C428.5,470.3 427.2,470.9 426.4,472.9Z"/>
<path d="M436.5,523.4 C436.5,525.5 437.3,532.3 436.5,536.1 C435.7,539.9 434,543.2 431.4,546.2 C428.9,549.1 426.4,550.8 421.3,553.8 C416.3,556.7 408.7,560.5 401.1,563.9 C393.5,567.2 384.3,571 375.8,574 C367.4,576.9 357.7,579.9 350.6,581.6 C343.4,583.3 335.8,583.7 332.9,584.1"/>
<path d="M431.4,551.2 C428.1,552.7 418,557.3 411.2,560.1 C404.5,562.8 398.6,564.7 391,567.7 C383.4,570.6 373.3,574.8 365.7,577.8 C358.1,580.7 348.9,584.1 345.5,585.4"/>
<path d="M307.6,581.6 C305.1,584.1 304.2,590.4 305.1,594.2 C305.9,598 309.3,602.1 312.6,604.3 C316,606.5 322.1,608.6 325.3,607.4 C328.4,606.1 331,600.6 331.6,596.7 C332.2,592.9 331,587.1 329.1,584.1 C327.2,581.2 323.8,579.5 320.2,579 C316.6,578.6 310.1,579 307.6,581.6Z"/>
<path d="M312.6,586.6 C311.4,588.3 311.6,593.2 312.6,595.5 C313.7,597.8 316.9,600.1 319,600.5 C321.1,601 324.2,599.9 325.3,598 C326.3,596.1 326.1,591.3 325.3,589.2 C324.4,587.1 322.3,585.8 320.2,585.4 C318.1,584.9 313.9,584.9 312.6,586.6Z"/>
<path d="M329.1,571.5 C328.4,572.5 327.9,575.2 328.3,576.5 C328.7,577.9 330.3,579.3 331.6,579.6 C332.9,579.8 335.2,578.9 335.9,577.8 C336.6,576.6 336.5,574 335.9,572.7 C335.3,571.5 333.5,570.4 332.4,570.2 C331.2,570 329.7,570.4 329.1,571.5Z"/>
<path d="M325.3,606.9 C329.5,606 342.1,604.3 350.6,601.8 C359,599.3 367.4,595.1 375.8,591.7 C384.3,588.3 393.5,584.9 401.1,581.6 C408.7,578.2 415.9,574.8 421.3,571.5 C426.8,568.1 431.2,565.1 434,561.3 C436.7,557.6 437.1,550.8 437.8,548.7"/>
<path d="M364.5,542.9 C363.9,539.4 363,534.9 363.4,530.6 C363.7,526.3 364.9,521.4 366.7,517.1 C368.6,512.8 371.6,508.5 374.6,504.7 C377.6,501 381.2,497.4 384.7,494.6 C388.3,491.8 392.2,489.2 396,487.9 C399.7,486.6 404.2,486.2 407.2,486.7 C410.2,487.3 412.2,489 413.9,491.2 C415.6,493.5 416.6,496.5 417.3,500.2 C418.1,504 418.6,509.2 418.4,513.7 C418.2,518.2 417.1,523.4 416.2,527.2 C415.2,530.9 414.3,533.6 412.8,536.2 C411.3,538.8 409.8,540.7 407.2,542.9 C404.6,545.2 400.8,547.6 397.1,549.7 C393.3,551.7 388.7,554.2 384.7,555.3 C380.8,556.4 376.5,557 373.5,556.4 C370.5,555.8 368.2,554.2 366.7,551.9 C365.2,549.7 365.1,546.5 364.5,542.9Z"/>
<path d="M372.4,536.2 C372.4,534.7 371.6,530.6 372.4,527.2 C373.1,523.8 374.8,519.5 376.9,516 C378.9,512.4 381.9,508.5 384.7,505.8 C387.5,503.2 390.7,501.3 393.7,500.2 C396.7,499.1 400.1,498.7 402.7,499.1 C405.3,499.5 407.6,500.8 409.4,502.5 C411.3,504.2 413,507.3 413.9,509.2 C414.9,511.1 414.9,513 415.1,513.7"/>
<path d="M378,533.9 C377,531.3 376.3,528.1 376.9,524.9 C377.4,521.8 379.3,517.8 381.3,514.8 C383.4,511.8 386.4,508.7 389.2,507 C392,505.3 395.4,504.5 398.2,504.7 C401,504.9 404,506.2 406.1,508.1 C408.1,510 409.6,512.8 410.6,516 C411.5,519.1 412.1,523.8 411.7,527.2 C411.3,530.6 410,533.7 408.3,536.2 C406.6,538.6 404.2,540.5 401.6,541.8 C399,543.1 395.8,544.2 392.6,544 C389.4,543.9 384.9,542.4 382.5,540.7 C380,539 378.9,536.6 378,533.9Z"/>
<path d="M393.7,524.9 C394.6,522.7 396.1,519.5 398.2,518.2 C400.3,516.9 403.6,516.5 406.1,517.1 C408.5,517.6 411.5,519.3 412.8,521.6 C414.1,523.8 414.3,527.8 413.9,530.6 C413.6,533.4 412.4,536.6 410.6,538.4 C408.7,540.3 405.1,541.8 402.7,541.8 C400.3,541.8 397.6,540.1 396,538.4 C394.3,536.7 393,533.9 392.6,531.7 C392.2,529.4 392.8,527.2 393.7,524.9Z"/>
<path d="M397.1,522.7 C398.4,522.1 402.7,519.5 404.9,519.3 C407.2,519.1 409.6,521.2 410.6,521.6"/>
<path d="M396,532.8 L397.1,538.4"/>
<path d="M417.3,530.6 C416.7,531.7 416,533.7 416.2,535.1 C416.4,536.4 417.4,538.1 418.4,538.4 C419.5,538.8 421.3,538.2 422.4,537.3 C423.4,536.4 424.5,534.2 424.6,532.8 C424.7,531.4 423.8,529.6 422.9,528.9 C422.1,528.1 420.5,528 419.6,528.3 C418.6,528.6 417.9,529.4 417.3,530.6Z"/>
<path d="M424,513.7 C425,514.6 428,517.5 429.7,519.3 C431.3,521.2 433,522.5 434.2,524.9 C435.3,527.4 436.2,530.9 436.4,533.9 C436.6,536.9 436,540.7 435.3,542.9 C434.5,545.2 432.5,546.7 431.9,547.4"/>
<path d="M397.1,558.7 C399.3,557.5 406.3,554.2 410.6,551.9 C414.9,549.7 419.2,547 422.9,545.2 C426.7,543.3 431.3,541.4 433,540.7"/>
<path d="M407.2,560 C409.3,558.8 415.4,555.3 419.6,553 C423.7,550.7 428.9,548 431.9,546.3 C434.9,544.6 436.6,543.5 437.5,542.9"/>
<path d="M225.1,525 C223.2,527.7 223.2,533.8 223.9,537.6 C224.5,541.3 226.2,545.3 228.9,547.6 C231.6,549.9 236.9,551.8 240.2,551.4 C243.6,551 247.3,548 249,545.1 C250.7,542.2 250.9,537.2 250.3,533.8 C249.6,530.5 247.7,527.1 245.2,525 C242.7,522.9 238.5,521.3 235.2,521.3 C231.8,521.3 227,522.3 225.1,525Z"/>
<path d="M228.9,531.3 C227.2,533 227.9,537.8 228.9,540.1 C229.9,542.4 232.9,544.7 235.2,545.1 C237.5,545.5 241.3,544.3 242.7,542.6 C244.2,540.9 244.6,537.2 244,535.1 C243.4,533 241.5,530.7 239,530 C236.4,529.4 230.6,529.6 228.9,531.3Z"/>
<path d="M250.3,535.1 C253.6,535.9 264.1,538.4 270.4,540.1 C276.6,541.8 282.1,542.6 288,545.1 C293.8,547.6 300.1,551.8 305.5,555.2 C311,558.5 316.4,562.7 320.6,565.2 C324.8,567.7 329,569.4 330.7,570.2"/>
<path d="M250.3,545.1 C253.2,545.5 262.4,546 267.9,547.6 C273.3,549.3 277.5,551.8 282.9,555.2 C288.4,558.5 296.3,563.9 300.5,567.7 C304.7,571.5 306.8,576.1 308.1,577.8"/>
<path d="M282.9,520 C282.5,522.5 280,530 280.4,535.1 C280.8,540.1 282.9,545.5 285.4,550.1 C288,554.7 292.1,559.3 295.5,562.7 C298.8,566 303,567.7 305.5,570.2 C308.1,572.7 309.7,576.5 310.6,577.8"/>
<path d="M295.5,520 C295.1,522.5 292.6,530.5 293,535.1 C293.4,539.7 295.9,543.9 298,547.6 C300.1,551.4 302.2,554.7 305.5,557.7 C308.9,560.6 316,563.9 318.1,565.2"/>
<path d="M325.7,520 C326.1,522.5 326.5,529.6 328.2,535.1 C329.8,540.5 332.8,547.6 335.7,552.6 C338.6,557.7 342.4,562.3 345.8,565.2 C349.1,568.1 352,569.6 355.8,570.2 C359.6,570.9 365.4,571.1 368.4,569 C371.3,566.9 373,562.5 373.4,557.7 C373.8,552.9 372.1,546.4 370.9,540.1 C369.6,533.8 366.7,523.3 365.9,520"/>
<path d="M340.7,520 C340.7,522.5 339.9,530 340.7,535.1 C341.6,540.1 343.7,546 345.8,550.1 C347.9,554.3 352,558.5 353.3,560.2"/>
<path d="M135.4,293.5 C137.1,295.4 142.5,301.1 145.6,305.3 C148.7,309.5 151.5,314.6 154,318.8 C156.5,323 158.8,326.9 160.7,330.6 C162.7,334.2 164.9,339 165.8,340.7"/>
<path d="M139.2,291.8 C140.8,293.8 146.2,299.4 149.3,303.6 C152.4,307.8 155.2,312.9 157.7,317.1 C160.2,321.3 163,326.9 164.1,328.9"/>
<path d="M162.4,280 C163.8,281.7 167.8,286.7 170.8,290.1 C173.9,293.5 177.9,296.9 181,300.2 C184,303.6 186.9,307.5 189.4,310.3 C191.9,313.1 195,316 196.1,317.1"/>
<path d="M165.8,280 C167.5,281.7 172.5,286.5 175.9,290.1 C179.3,293.8 182.9,298 186,301.9 C189.1,305.8 193,311.7 194.4,313.7"/>
<path d="M142.2,305.3 C141.6,306.7 139.7,310.1 138.8,313.7 C138,317.4 137.1,322.1 137.1,327.2 C137.1,332.2 137.7,338.7 138.8,344 C139.9,349.4 141.9,354.4 143.9,359.2 C145.8,364 149.5,370.4 150.6,372.7"/>
<path d="M144.2,303.6 C143.7,305.8 141.5,312.6 140.8,317.1 C140.2,321.6 140.1,326.1 140.2,330.6 C140.3,335.1 140.6,339.6 141.5,344 C142.4,348.5 144.9,355.3 145.6,357.5"/>
<path d="M159,330.6 C158.9,333.4 158.5,341.8 158.2,347.4 C157.9,353 157.2,358.7 157.4,364.3 C157.5,369.9 158.5,375.2 159,381.1 C159.6,387.1 160.4,396.9 160.7,400"/>
<path d="M162.4,340.7 C162.3,343.2 161.6,350.5 161.6,355.8 C161.6,361.2 162,367.1 162.4,372.7 C162.8,378.3 163.7,385 164.1,389.6 C164.5,394.1 164.8,398.3 164.9,400"/>
<path d="M162.4,308.7 C163,309.5 164.9,310.9 165.8,313.7 C166.6,316.5 167.8,322.7 167.5,325.5 C167.2,328.3 164.7,329.7 164.1,330.6"/>
<path d="M167.5,301.9 C170,301.3 179,297.1 182.6,298.5 C186.3,299.9 187.7,307 189.4,310.3 C191.1,313.7 194.4,316 192.8,318.8 C191.1,321.6 183.5,323.5 179.3,327.2 C175.1,330.8 169.4,338.4 167.5,340.7"/>
<path d="M147.2,377.8 C145.8,379 145.3,382 145.6,384.5 C145.8,387 147.2,391 148.9,392.9 C150.6,394.9 153.8,396.6 155.7,396.3 C157.5,396 159.3,393.5 159.9,391.2 C160.4,389 160,385.2 159,382.8 C158.1,380.4 156,377.8 154,376.9 C152,376.1 148.7,376.5 147.2,377.8Z"/>
<path d="M137.1,291.8 C138.5,291.2 142.2,289.8 145.6,288.4 C148.9,287 154.6,284.5 157.4,283.4 C160.2,282.2 161.6,282 162.4,281.7"/>
<path d="M196.1,313.7 C195.8,311.5 194.2,304.2 194.4,300.2 C194.7,296.3 195.8,292.9 197.8,290.1 C199.8,287.3 203.4,285.1 206.2,283.4 C209.1,281.7 213.5,280.6 215,280"/>
<path d="M199.5,293.5 L215,293.5"/>
<path d="M199.5,305.3 L215,304.4"/>
<path d="M196.1,400 C196.4,397.4 196.4,389 197.8,384.5 C199.2,379.9 201.7,376.1 204.6,372.7 C207.4,369.3 213.3,365.7 215,364.3"/>
<path d="M202.9,400 C203.1,398 203.1,391.6 204.6,387.9 C206,384.2 209.6,380 211.3,377.8 C213,375.5 214.4,374.9 215,374.4"/>
<path d="M222.4,400.7 C221.6,403.5 220.9,408.6 221.2,413.1 C221.6,417.6 222.7,423 224.6,427.7 C226.5,432.4 229.5,437.2 232.5,441.2 C235.5,445.1 239.2,448.9 242.6,451.3 C246,453.7 249.9,455.2 252.7,455.8 C255.5,456.3 257.8,456 259.4,454.7 C261.1,453.4 261.9,451.1 262.8,447.9 C263.7,444.7 264.5,439.5 265.1,435.6 C265.6,431.6 266.6,427.7 266.2,424.3 C265.8,421 264.7,418.1 262.8,415.3 C260.9,412.5 258.1,410.3 254.9,407.5 C251.8,404.7 247.5,400.5 243.7,398.5 C240,396.4 235.5,395.5 232.5,395.1 C229.5,394.7 227.4,395.3 225.7,396.2 C224,397.2 223.1,397.9 222.4,400.7Z"/>
<path d="M219.6,399.6 C218.7,402.9 218.1,408.2 218.4,413.1 C218.8,418 219.8,423.8 221.8,428.8 C223.8,433.9 226.9,439.1 230.2,443.4 C233.5,447.7 237.7,451.9 241.5,454.7 C245.2,457.4 249.3,459.2 252.7,459.7 C256.1,460.3 259.4,459.8 261.7,458 C263.9,456.3 265.1,452.8 266.2,449 C267.3,445.3 267.9,439.9 268.4,435.6 C269,431.3 270,426.9 269.6,423.2 C269.1,419.5 267.7,416.3 265.6,413.1 C263.6,409.9 260.7,407.1 257.2,404.1 C253.7,401.1 249,397.2 244.8,395.1 C240.7,393.1 236,392 232.5,391.7 C228.9,391.5 225.6,392.1 223.5,393.4 C221.3,394.7 220.4,396.3 219.6,399.6Z"/>
<path d="M262.8,407.5 C263.9,408.4 268.1,410.3 269.6,413.1 C271,415.9 271.6,420.6 271.2,424.3 C270.9,428.1 268.5,431.6 267.3,435.6 C266.1,439.5 264.7,443 263.9,447.9 C263.2,452.8 263,462.2 262.8,465"/>
<path d="M266.2,405.2 C267.3,406.2 271.5,407.8 272.9,410.8 C274.3,413.8 275,419.1 274.6,423.2 C274.2,427.3 272,431.4 270.7,435.6 C269.4,439.7 267.6,443 266.7,447.9 C265.9,452.8 265.8,462.2 265.6,465"/>
<path d="M249.3,385 C250.6,386.1 254.8,389.3 257.2,391.7 C259.6,394.2 262.1,397.5 263.9,399.6 C265.8,401.7 267.7,403.4 268.4,404.1"/>
<path d="M252.7,385 C254,385.9 258.1,388.6 260.6,390.6 C263,392.7 265.2,395.5 267.3,397.4 C269.4,399.2 272,401.1 272.9,401.9"/>
<path d="M272.9,401.9 C274,402.8 277.8,405.4 279.7,407.5 C281.5,409.5 282.8,411.8 284.2,414.2 C285.5,416.6 286.6,419.5 287.5,422.1 C288.5,424.7 289.6,428.6 290,429.9"/>
<path d="M277.4,429.9 C278.4,430.9 280.9,434.1 283,435.6 C285.1,437.1 288.8,438.4 290,438.9"/>
<path d="M227.4,250.8 C228.5,251.5 232.1,253.1 233.7,255 C235.3,256.9 236.4,259.9 236.9,262.4 C237.4,264.8 237.2,267.3 236.9,269.8 C236.5,272.2 235.7,275 234.8,277.1 C233.9,279.2 233.2,281 231.6,282.4 C230,283.8 227.4,284.7 225.3,285.6 C223.2,286.4 220,287.3 219,287.7"/>
<path d="M244.3,247.6 C244.8,248.7 246.7,251.5 247.4,254 C248.1,256.4 248.5,259.8 248.5,262.4 C248.5,265 248.1,267.7 247.4,269.8 C246.7,271.9 245.5,273.4 244.3,275 C243,276.6 241.6,278 240,279.2 C238.5,280.5 235.7,281.9 234.8,282.4"/>
<path d="M247.4,256.1 C249.2,257.1 254.4,260.6 258,262.4 C261.5,264.1 265,265.4 268.5,266.6 C272,267.8 275.5,268.7 279,269.8 C282.5,270.8 286.1,272 289.6,272.9 C293.1,273.8 298.3,274.7 300,275"/>
<path d="M249.5,262.4 C251.1,263.1 255.7,265.2 259,266.6 C262.3,268 266,269.2 269.5,270.8 C273.1,272.4 276.6,274.5 280.1,276.1 C283.6,277.7 287.3,279.1 290.6,280.3 C293.9,281.5 298.4,282.9 300,283.5"/>
<path d="M252.7,269.8 C254.4,270.5 259.7,272.6 263.2,274 C266.7,275.4 270.2,276.8 273.8,278.2 C277.3,279.6 280.8,281.2 284.3,282.4 C287.8,283.6 292.2,284.7 294.8,285.6 C297.5,286.4 299.1,287.3 300,287.7"/>
<path d="M244.3,266.6 C246,267 251.3,267.8 254.8,268.7 C258.3,269.6 261.8,270.8 265.3,271.9 C268.8,272.9 274.1,274.5 275.9,275"/>
<path d="M245.3,239.2 C247.1,240.3 252.5,243.3 255.8,245.5 C259.2,247.8 262.3,250.6 265.3,252.9 C268.3,255.2 272.4,258.2 273.8,259.2"/>
<path d="M256.9,237.1 C258.7,238.3 264.3,241.7 267.4,244.5 C270.6,247.3 273.1,251.2 275.9,254 C278.7,256.8 282.9,260.1 284.3,261.3"/>
<path d="M200,294 C201.8,293.7 207,292.6 210.5,292.4 C214,292.2 217.6,292.5 221.1,292.9 C224.6,293.4 228.1,294.2 231.6,295 C235.1,295.9 238.6,297 242.1,298.2 C245.7,299.4 249.2,300.8 252.7,302.4 C256.2,304 260.6,306.4 263.2,307.7 C265.9,308.9 267.6,309.6 268.5,310"/>
<path d="M200,304.5 C201.8,304.4 207,303.9 210.5,304 C214,304.1 217.6,304.4 221.1,305 C224.6,305.7 229,306.9 231.6,307.7 C234.2,308.5 236,309.6 236.9,310"/>
<path d="M282.2,291.9 C281.3,292.9 281,295.4 281.1,297.1 C281.3,298.9 282.2,301.2 283.2,302.4 C284.3,303.6 286.1,304.5 287.5,304.5 C288.9,304.5 290.8,303.6 291.7,302.4 C292.6,301.2 292.9,298.8 292.7,297.1 C292.6,295.5 291.7,293.5 290.6,292.4 C289.6,291.4 287.8,290.9 286.4,290.8 C285,290.7 283.1,290.8 282.2,291.9Z"/>
<path d="M271.7,294 C272,294.7 272.9,297.1 273.8,298.2 C274.6,299.3 275.9,300.7 276.9,300.3 C278,300 279.9,297.9 280.1,296.1 C280.3,294.3 279,290.7 278,289.8 C276.9,288.9 274.5,290.7 273.8,290.8"/>
<path d="M273.8,282.4 C275.2,282.9 279.6,284.3 282.2,285.6 C284.8,286.8 287.1,288.4 289.6,289.8 C292,291.2 295.2,292.6 296.9,294 C298.7,295.4 299.5,297.5 300,298.2"/>
<path d="M259,247.6 C260.1,248.3 263.2,250.4 265.3,251.9 C267.4,253.3 269.2,255.5 271.7,256.1 C274.1,256.6 277.6,255.5 280.1,255 C282.5,254.5 283.9,253.8 286.4,252.9 C288.9,252 293.4,250.3 294.8,249.7"/>
<path d="M459.7,300 C459.4,301.1 459.4,304.8 458,306.7 C456.6,308.7 454.1,309.8 451.3,311.8 C448.5,313.8 444.6,316 441.2,318.5 C437.8,321.1 433.9,324.2 431.1,327 C428.3,329.8 426.3,332 424.3,335.4 C422.4,338.8 420.4,343.3 419.3,347.2 C418.2,351.1 418,355.1 417.6,359 C417.2,362.9 416.9,366.6 416.8,370.8 C416.6,375 416.3,379.2 416.8,384.3 C417.2,389.3 418.6,395.2 419.3,401.1 C420,407.1 420.7,416.9 421,420"/>
<path d="M330,380.9 C334.2,378.9 346.8,373.3 355.3,369.1 C363.7,364.9 372.1,360.1 380.5,355.6 C389,351.1 397.4,346.6 405.8,342.1 C414.2,337.6 424.1,332.9 431.1,328.7 C438.1,324.4 443.4,320.2 447.9,316.9 C452.4,313.5 456.4,309.8 458,308.4"/>
<path d="M330,387.6 C334.2,385.4 346.8,378.7 355.3,374.2 C363.7,369.7 372.1,365.2 380.5,360.7 C389,356.2 398,351.7 405.8,347.2 C413.7,342.7 424.1,336 427.7,333.7"/>
<path d="M336.7,300 C339,301.7 345.7,306.5 350.2,310.1 C354.7,313.8 359.8,318 363.7,321.9 C367.6,325.8 371.3,329.8 373.8,333.7 C376.3,337.6 377.7,341.6 378.9,345.5 C380,349.4 380.3,353.1 380.5,357.3 C380.8,361.5 380.3,366.9 380.5,370.8 C380.8,374.7 381.4,377.5 382.2,380.9 C383.1,384.3 384.2,387.6 385.6,391 C387,394.4 388.7,397.8 390.6,401.1 C392.6,404.5 395.4,408.1 397.4,411.2 C399.4,414.4 401.6,418.5 402.4,420"/>
<path d="M346.8,300 C349.7,302 358.6,307.9 363.7,311.8 C368.7,315.7 373.5,319.4 377.2,323.6 C380.8,327.8 383.8,332.6 385.6,337.1 C387.4,341.6 387.7,346.1 388.1,350.6 C388.5,355.1 388,360.1 388.1,364 C388.3,368 388.8,372.5 389,374.2"/>
<path d="M357,300 C359.5,301.7 367.6,306.5 372.1,310.1 C376.6,313.8 380.8,317.7 383.9,321.9 C387,326.1 389.1,330.9 390.6,335.4 C392.2,339.9 392.8,346.6 393.2,348.9"/>
<path d="M330,407.9 C332.8,406.2 341.2,401.1 346.8,397.8 C352.5,394.4 358.1,391 363.7,387.6 C369.3,384.3 376.3,379.8 380.5,377.5 C384.8,375.3 387.6,374.7 389,374.2"/>
<path d="M338.4,420 C341.2,418.3 349.7,413 355.3,409.6 C360.9,406.1 366.5,402.8 372.1,399.4 C377.7,396.1 386.2,391 389,389.3"/>
<path d="M355.3,420 C358.1,418.5 366.5,414.4 372.1,411.2 C377.7,408.1 384.2,403.9 389,401.1 C393.7,398.3 398.8,395.5 400.8,394.4"/>
<path d="M330,306.7 C331.7,307.6 336.7,310.4 340.1,311.8 C343.5,313.2 346.3,314.9 350.2,315.2 C354.1,315.4 358.6,314.9 363.7,313.5 C368.7,312.1 374.9,309 380.5,306.7 C386.2,304.5 394.6,301.1 397.4,300"/>
<path d="M330,325.3 C332.2,325 339.3,324.4 343.5,323.6 C347.7,322.8 351.1,321.6 355.3,320.2 C359.5,318.8 366.5,316 368.7,315.2"/>
<path d="M387.3,375.8 C388.4,377.2 391.8,381.7 394,384.3 C396.3,386.8 398.2,389.3 400.8,391 C403.3,392.7 406.4,393.3 409.2,394.4 C412,395.5 416.2,397.2 417.6,397.8"/>
<path d="M390.6,379.2 C391.8,380.9 394.9,386.2 397.4,389.3 C399.9,392.4 403,395.2 405.8,397.8 C408.6,400.3 412.8,403.4 414.2,404.5"/>
<path d="M400.8,380.9 C401.9,381.5 405.3,384.3 407.5,384.3 C409.7,384.3 412.6,382 414.2,380.9 C415.9,379.8 417,378.1 417.6,377.5"/>
<path d="M397.4,401.1 C398.8,402.5 403,406.4 405.8,409.6 C408.6,412.7 412.8,418.3 414.2,420"/>
<path d="M405.8,394.4 C406.9,396.1 410.6,400.2 412.6,404.5 C414.5,408.8 416.8,417.4 417.6,420"/>
<path d="M206,440 C206.4,442.5 207.2,450.1 208.5,455.2 C209.8,460.2 211.4,465.7 213.6,470.3 C215.7,475 217.8,479.6 221.1,483 C224.5,486.3 229.6,488.7 233.8,490.6 C238,492.5 241.8,493.5 246.4,494.4 C251.1,495.2 259.1,495.4 261.6,495.6"/>
<path d="M211,440 C211.4,442.1 212.3,448.4 213.6,452.6 C214.8,456.9 216.5,461.5 218.6,465.3 C220.7,469.1 222.8,472.2 226.2,475.4 C229.6,478.6 234.6,482.1 238.8,484.2 C243.1,486.3 247.7,487.2 251.5,488 C255.3,488.9 259.9,489.1 261.6,489.3"/>
<path d="M216.1,440 C216.7,441.7 218.2,446.3 219.9,450.1 C221.6,453.9 223.5,459 226.2,462.8 C228.9,466.5 232.5,470.1 236.3,472.9 C240.1,475.6 244.7,477.7 249,479.2 C253.2,480.7 259.5,481.3 261.6,481.7"/>
<path d="M223.7,440 C224.5,441.7 226.6,446.7 228.7,450.1 C230.8,453.5 232.9,457.3 236.3,460.2 C239.7,463.2 244.7,465.9 249,467.8 C253.2,469.7 259.5,471 261.6,471.6"/>
<path d="M203.4,440 C203.6,442.9 203.6,452.2 204.7,457.7 C205.8,463.2 207.9,468.2 209.8,472.9 C211.7,477.5 213.8,482.1 216.1,485.5 C218.4,488.9 222.4,491.8 223.7,493.1"/>
<path d="M228.7,490.6 L230,515.8"/>
<path d="M238.8,493.1 L240.1,513.3"/>
<path d="M249,495.6 L250.2,515.8"/>
<path d="M259.1,498.1 L260.3,518.4"/>
<path d="M269.2,500.7 L270.4,520.9"/>
<path d="M231.3,495.6 L241.4,513.3"/>
<path d="M251.5,498.1 L261.6,515.8"/>
<path d="M261.6,500.7 L274.2,518.4"/>
<path d="M271.7,445.1 C272.5,449.3 275.1,461.9 276.8,470.3 C278.4,478.8 279.3,487.2 281.8,495.6 C284.3,504 288.1,513.3 291.9,520.9 C295.7,528.5 299.9,535.6 304.6,541.1 C309.2,546.6 317.2,551.7 319.7,553.8"/>
<path d="M281.8,440 C282.2,444.2 283.1,456.9 284.3,465.3 C285.6,473.7 286.9,482.1 289.4,490.6 C291.9,499 295.7,508.3 299.5,515.8 C303.3,523.4 308.8,531.9 312.2,536.1 C315.5,540.3 318.5,540.3 319.7,541.1"/>
<path d="M291.9,440 C292.4,443.4 293.2,452.6 294.5,460.2 C295.7,467.8 297,477.5 299.5,485.5 C302,493.5 306.3,501.9 309.6,508.3 C313,514.6 318.1,520.9 319.7,523.4"/>
<path d="M302,440 C302.5,442.9 303.3,451.4 304.6,457.7 C305.8,464 307.1,471.6 309.6,477.9 C312.2,484.2 318.1,492.7 319.7,495.6"/>
<path d="M266.6,455.2 C267.5,459.4 270,472 271.7,480.4 C273.4,488.9 274.2,497.3 276.8,505.7 C279.3,514.2 282.7,522.6 286.9,531 C291.1,539.4 297.8,549.6 302,556.3 C306.3,563 310.5,568.9 312.2,571.5"/>
<path d="M246.4,536.1 C249,536.9 256.5,539.4 261.6,541.1 C266.6,542.8 271.7,543.7 276.8,546.2 C281.8,548.7 286.9,552.1 291.9,556.3 C297,560.5 303.3,567.2 307.1,571.5 C310.9,575.7 313.4,579.9 314.7,581.6"/>
<path d="M249,546.2 C251.9,547 260.8,548.7 266.6,551.2 C272.5,553.8 278.9,557.6 284.3,561.3 C289.8,565.1 297,571.9 299.5,574"/>
<path d="M195.9,475.4 C197.1,477.1 200.1,481.7 203.4,485.5 C206.8,489.3 212.3,493.9 216.1,498.1 C219.9,502.4 224.5,508.7 226.2,510.8"/>
<path d="M247.8,367.8 C248.8,369.1 251.8,372.5 253.8,375.8 C255.8,379.1 258.1,384.1 259.7,387.8 C261.4,391.4 262.4,394.4 263.7,397.7 C265.1,401 266.7,404 267.7,407.7 C268.7,411.4 269.4,417.7 269.7,419.7"/>
<path d="M283.7,357.8 C284.3,358.8 286.3,361.5 287.7,363.8 C289,366.1 290.3,369.1 291.6,371.8 C293,374.5 295,378.4 295.6,379.8"/>
<path d="M259.7,391.7 C261.7,392.1 267.7,393.4 271.7,393.7 C275.7,394.1 280.3,394.4 283.7,393.7 C287,393.1 290.3,390.4 291.6,389.7"/>
<path d="M265.7,403.7 C268.1,403.4 275.4,402.7 279.7,401.7 C284,400.7 288.3,399.4 291.6,397.7 C295,396.1 298.3,392.7 299.6,391.7"/>
<path d="M283.7,411.7 C285,410.4 288.7,405 291.6,403.7 C294.6,402.4 299,402.4 301.6,403.7 C304.3,405 306.6,407.7 307.6,411.7 C308.6,415.7 307.6,425 307.6,427.6"/>
<path d="M319.6,391.7 C320.2,393.7 322.9,399.1 323.5,403.7 C324.2,408.4 324.2,414.3 323.5,419.7 C322.9,425 320.2,433 319.6,435.6"/>
<path d="M331.5,403.7 C332.2,405 332.9,409.7 335.5,411.7 C338.2,413.7 341.7,415.7 347.5,415.7 C353.2,415.7 366.2,412.4 370,411.7"/>
<path d="M180,308 C183.3,308 193.3,307.3 199.9,308 C206.6,308.6 213.2,310.3 219.9,312 C226.5,313.6 233.2,315.6 239.8,317.9 C246.5,320.3 253.8,322.6 259.7,325.9 C265.7,329.3 271,334.2 275.7,337.9 C280.3,341.5 285.7,346.2 287.7,347.9"/>
<path d="M333.4,397 C337.6,395.2 351.5,389 358.2,386.2 C364.9,383.3 371,381 373.6,380"/>
<path d="M339.6,406.3 C342.7,404.7 352,400.1 358.2,397 C364.3,393.9 371.4,390.3 376.7,387.7 C382,385.1 387.8,382.6 390,381.5"/>
<path d="M342.7,415.5 C345.8,414 355.1,409.4 361.3,406.3 C367.4,403.2 375,399.3 379.8,397 C384.6,394.7 388.3,393.1 390,392.4"/>
<path d="M345.8,421.7 C349.4,419.9 360.1,414.5 367.4,410.9 C374.8,407.3 386.2,401.9 390,400.1"/>
<path d="M321.1,418.6 C323.7,417.6 331.9,414.2 336.5,412.4 C341.2,410.6 346.8,408.6 348.9,407.8"/>
<path d="M322.6,431 C324.9,430.2 331.9,427.6 336.5,426.3 C341.2,425.1 348.1,423.8 350.4,423.3"/>
<path d="M348.9,426.3 C352,425.3 360.6,422.7 367.4,420.2 C374.3,417.6 386.2,412.4 390,410.9"/>
<path d="M324.2,417.1 C327.3,418.6 337,423.5 342.7,426.3 C348.4,429.2 353,431.5 358.2,434.1 C363.3,436.6 368.5,439.5 373.6,441.8 C378.8,444.1 386.5,446.9 389.1,448"/>
<path d="M327.3,423.3 C330.4,424.8 340.1,429.4 345.8,432.5 C351.5,435.6 356.1,438.7 361.3,441.8 C366.4,444.9 374.1,449.5 376.7,451.1"/>
<path d="M304.1,444.9 C306.7,443.9 314.6,440.5 319.5,438.7 C324.4,436.9 331.1,434.8 333.4,434.1"/>
<path d="M280.9,457.2 C283.5,456 291.2,451.6 296.4,449.5 C301.5,447.5 309.2,445.7 311.8,444.9"/>
<path d="M270.1,466.5 C273.2,465 283,459.6 288.6,457.2 C294.3,454.9 301.5,453.4 304.1,452.6"/>
<path d="M273.2,480.4 C276,478.6 284.3,473 290.2,469.6 C296.1,466.3 303.1,463.2 308.7,460.3 C314.4,457.5 321.6,453.9 324.2,452.6"/>
<path d="M342.7,480.4 C345.3,479.1 353,475.3 358.2,472.7 C363.3,470.1 368.3,467.5 373.6,465 C378.9,462.4 387.3,458.5 390,457.2"/>
<path d="M350.4,488.1 C353.3,486.9 360.8,483.3 367.4,480.4 C374,477.6 386.2,472.7 390,471.2"/>
<path d="M296.4,403.2 C297.1,404.5 299.4,408.1 301,410.9 C302.5,413.7 305.1,416.8 305.6,420.2 C306.1,423.5 305.1,427.9 304.1,431 C303.1,434.1 300.2,437.4 299.4,438.7"/>
<path d="M316.4,389.3 C317.2,390.8 320.8,394.9 321.1,398.5 C321.3,402.1 319,406.3 318,410.9 C317,415.5 315.9,421.7 314.9,426.3 C313.9,431 312.3,436.6 311.8,438.7"/>
</g>
<g class="es">
<path d="M179.7,229.8 L194.7,245.4"/>
<path d="M201.7,242.8 L212.6,251.8"/>
<path d="M208.6,238.8 L223.6,252.8"/>
<path d="M200.7,253.8 L210.6,262.7"/>
<path d="M270.4,236.8 L279.4,246.8"/>
<path d="M288.7,378.7 L299.6,373.7"/>
<path d="M289.7,383.7 L301.6,377.7"/>
<path d="M291.6,388.7 L303.6,381.7"/>
<path d="M302.9,459.8 L304.9,457.8"/>
<path d="M305.7,462.2 L307.7,460.2"/>
<path d="M308.5,464.6 L310.5,462.6"/>
<path d="M311.3,467 L313.3,465"/>
<path d="M314.1,469.4 L316.1,467.4"/>
<path d="M316.9,471.8 L318.9,469.8"/>
<path d="M319.7,474.2 L321.7,472.2"/>
<path d="M268.5,237.1 L280.1,248.7"/>
<path d="M285.6,475.4 L289.9,474.1"/>
<path d="M287.1,481.7 L291.4,480.4"/>
<path d="M288.6,488 L292.9,486.8"/>
<path d="M290.2,494.4 L294.5,493.1"/>
<path d="M291.7,500.7 L296,499.4"/>
<path d="M293.2,507 L297.5,505.7"/>
<path d="M294.7,513.3 L299,512.1"/>
<path d="M296.2,519.6 L300.5,518.4"/>
<path d="M297.7,526 L302,524.7"/>
<path d="M299.3,532.3 L303.6,531"/>
<path d="M273.7,383.8 L281.7,378.8"/>
<path d="M276.5,386.2 L284.5,381.2"/>
<path d="M279.3,388.6 L287.3,383.6"/>
<path d="M282.1,390.9 L290.1,386"/>
<path d="M284.9,393.3 L292.8,388.4"/>
<path d="M287.7,395.7 L295.6,390.7"/>
</g>
<!-- /ENGINE -->
<!-- EXTRA -->
<defs><pattern id="mesh" width="2.8" height="2.8" patternUnits="userSpaceOnUse" patternTransform="rotate(30)"><rect width="2.8" height="2.8" fill="#fff"/><rect x="0" y="0" width="1.6" height="1.6" fill="#555"/></pattern></defs>
<path d="M224,404 C222,410 222,420 225,428 C228,436 233,443 240,448 C246,452 252,453 257,451 C261,448 263,442 263.5,436 C264,429 263.5,422 260.5,417 C256.5,411 250,406 243,402 C237,399 231,398 227,399 C225,400 224.5,402 224,404Z" fill="url(#mesh)" stroke="none"/>
<text transform="translate(216.5,339.5) rotate(32)" font-family="Liberation Sans" font-size="11.5" font-weight="bold" fill="#fff" stroke="#333" stroke-width="0.9" textLength="62" lengthAdjust="spacingAndGlyphs">POLARIS</text>
<g fill="none" stroke="#555" stroke-width="2" stroke-dasharray="2.5 1"><path d="M175,412 C177,416 180,420 182,424 M180,415 C184,418 188,422 192,427 M187,424 C191,427 195,431 199,436 M177,421 C180,424 183,428 186,432 M183,418 L187,416 M191,428 L195,426"/></g>
<!-- /EXTRA -->



<!-- PARTS -->
<g class="p">
<!-- bolt 2 -->
<path d="M318,156 L458.3,75.5 M323,170 L472.4,84.3"/>
<ellipse cx="320.3" cy="163" rx="3.6" ry="7.6" transform="rotate(-29.7 320.3 163)"/>
<path d="M458.3,75.5 C457,70 459,63.5 464,63.2 L472,63 C478,64 484,72 483.6,80 C483,86 478,92 473.5,92.3 C470,92 468,90 467,89"/>
<path d="M471,63.5 C477,68 481,76 480.5,84 C480,87 478.5,89.5 477.9,90.4"/>
<path d="M458.3,75.5 C461,72 464,71 466,72 C469,73 471.5,75 471.8,78 L472.5,84.2"/>
<!-- bolt 3 -->
<path d="M471,495 L580.2,432.4 M476.5,508.5 L594.1,441.6"/>
<ellipse cx="473.8" cy="501.8" rx="3.6" ry="7.4" transform="rotate(-29.7 473.8 501.8)"/>
<path d="M580.2,432.4 C579,429 579.3,424 581.5,421.4 C582.5,420.5 584,420.1 585.3,420.1 L594.8,420.4 C597,421 599,422 599.2,422.6 C602,425.5 604,429 605.5,435.3 C605,438 604.5,440 604.2,440.3 C603,443 602,444.5 601.1,445.4 C599.5,447 598,448 596.7,448.2 C594.5,448.2 592.5,447.8 591.6,447.3 C590,446.5 589,445.5 588.4,444.8"/>
<path d="M589.7,420.7 C593,422.5 595,424 596,425.8 C598.5,428.5 600,431 600.5,432.8 C601.5,435.5 601.8,438 601.7,439.7 C601.6,442 601.3,444 601.1,445.4"/>
<path d="M580.2,432.4 C583,430 585,428.5 587.2,428.3 C590,429 592,431 592.9,432.8 C594.3,434.5 594.8,436 594.8,437.2 C594.8,439 594.4,440.5 594.1,441.6"/>
<path d="M594,424.5 L598.5,422.6 M601,435.3 L605.5,435 M600.5,443 L602.5,441"/>
<!-- clamp 4 -->
<g stroke-width="1.4">
<path d="M566.9,109.6 C563,112 561.2,114 561.2,116.3 C560.8,119 560.8,121 561.2,122 C562.5,124 564,125 566.3,125.9 C567.5,127 568.5,127.8 569.7,127.9"/>
<path d="M571.3,111.9 C574,112 576.5,112.2 578.1,113 C579.3,114.5 579.5,116 579.2,117.5 C578.5,120.5 577.5,122.5 576.4,124.2 C575,126 573,127.5 571.3,127.9 C570.5,128 569.8,128 569.7,127.9"/>
<path d="M572.5,113.5 C570,115.5 568.5,117 568,118.6 C567,120.5 566.5,122.5 566.3,124.2 L566.3,125.9"/>
<path d="M573.5,114.5 C571.5,116.5 570.2,118.5 569.6,120.5 C569,122.5 568.8,124.5 569,126.5"/>
<path d="M566.3,107.4 L568.5,110.5 M570.5,110 L573.6,109.6 L576,110.5" stroke-width="2"/>
</g>
<!-- tube 5 (upper) -->
<g transform="translate(-201.8,-118.4)">
<path d="M813.2,256 L894.7,303.1 M812.6,258.2 L893.6,304.8 M808.6,264.9 L888.3,314.1"/>
<path d="M813.2,256 C810.2,255.6 808,258 807.8,260.5 C807.6,262.5 808,264 808.6,264.9"/>
<ellipse cx="891.5" cy="308.6" rx="4.5" ry="6.4" transform="rotate(30 891.5 308.6)"/>
</g>
<!-- tube 5 (right) -->
<path d="M813.2,256 L894.7,303.1 M812.6,258.2 L893.6,304.8 M808.6,264.9 L888.3,314.1"/>
<path d="M813.2,256 C810.2,255.6 808,258 807.8,260.5 C807.6,262.5 808,264 808.6,264.9"/>
<ellipse cx="891.5" cy="308.6" rx="4.5" ry="6.4" transform="rotate(30 891.5 308.6)"/>
<!-- T fitting 6 -->
<path d="M731.7,211.6 L777.9,237.8 M732.7,224.6 L746.4,231.4 M757.3,238.3 L773,246.2"/>
<path d="M731.7,211.6 C728,211.5 725.8,213.5 725.8,215.7 C725.8,218 726.5,219 726.8,219.7 C728.5,222 730.5,223.5 732.7,224.6"/>
<ellipse cx="776.4" cy="242.3" rx="3.6" ry="4.6" transform="rotate(-30 776.4 242.3)"/>
<ellipse cx="776.9" cy="242.6" rx="2" ry="2.8" transform="rotate(-30 776.9 242.6)"/>
<path d="M746.4,231.4 C747.3,234 747.4,238 747.4,243.2 L747.4,261.9 C750,263.2 755,263.2 758.2,261.9 L758,243 C758,240.5 757.6,239 757.3,238.3"/>
<path d="M733.8,214 C732,216.5 731.5,220 733,223.5 M736.5,215.5 C734.5,218 734,222 735.5,225 M739.5,217 C737.5,219.5 737,223 738.5,226.5"/>
<path d="M759.5,229 C758,231.5 758,235 759.5,238.5 M762,230.5 C760.5,233 760.5,237 762,240 M765,232.3 C763.5,234.5 763.5,238 765,241.6"/>
<path d="M747.4,246.5 C750,248 755,248 758,246.5 M747.4,249.5 C750,251 755,251 758,249.5 M747.4,252.5 C750,254 755,254 758,252.5"/>
<path d="M752,234.6 L757,238"/>
<!-- nut 1 (upper left) -->
<g transform="translate(72.4,304)" stroke-width="1.4">
<path d="M-12.7,-3 L-8.8,-7.2 L-0.9,-3.6 L2.5,2.6 L3,9.3 L1.3,13.8 L-1.5,14.4 L-8.8,11.6 L-12.7,5.4 L-13.3,0.3Z"/>
<path d="M-6.5,-10.3 C-6,-10.9 -4.8,-12.9 -3.7,-13.7 C-2.6,-14.4 -1.2,-15 0.2,-14.8 C1.6,-14.6 3.1,-13.7 4.7,-12.6 C6.3,-11.5 8.4,-9.8 9.8,-8.1 C11.2,-6.4 12.4,-4.5 13.1,-2.5 C13.8,-0.5 14.1,1.8 14,3.7 C13.9,5.6 13.3,7.5 12.6,8.8 C11.9,10.1 10.9,10.9 9.8,11.6 C8.7,12.2 7.1,12.4 5.8,12.7 C4.5,13 2.5,13.4 1.9,13.6"/>
<path d="M-8.8,-7.2 L-1.5,-11.4 L6.4,-7 L10.9,0.9 L11.5,5.4 L9.2,8.2 L3,9.3 M-0.9,-3.6 L6.4,-7 M2.5,2.6 L10.9,0.9"/>
<ellipse cx="-4.5" cy="4" rx="4.6" ry="6.6" transform="rotate(-18 -4.5 4)"/>
</g>
<!-- nut 1 (bottom) -->
<g transform="translate(253,620.5)" stroke-width="1.4">
<path d="M-12.7,-3 L-8.8,-7.2 L-0.9,-3.6 L2.5,2.6 L3,9.3 L1.3,13.8 L-1.5,14.4 L-8.8,11.6 L-12.7,5.4 L-13.3,0.3Z"/>
<path d="M-6.5,-10.3 C-6,-10.9 -4.8,-12.9 -3.7,-13.7 C-2.6,-14.4 -1.2,-15 0.2,-14.8 C1.6,-14.6 3.1,-13.7 4.7,-12.6 C6.3,-11.5 8.4,-9.8 9.8,-8.1 C11.2,-6.4 12.4,-4.5 13.1,-2.5 C13.8,-0.5 14.1,1.8 14,3.7 C13.9,5.6 13.3,7.5 12.6,8.8 C11.9,10.1 10.9,10.9 9.8,11.6 C8.7,12.2 7.1,12.4 5.8,12.7 C4.5,13 2.5,13.4 1.9,13.6"/>
<path d="M-8.8,-7.2 L-1.5,-11.4 L6.4,-7 L10.9,0.9 L11.5,5.4 L9.2,8.2 L3,9.3 M-0.9,-3.6 L6.4,-7 M2.5,2.6 L10.9,0.9"/>
<ellipse cx="-4.5" cy="4" rx="4.6" ry="6.6" transform="rotate(-18 -4.5 4)"/>
</g>
</g>

<!-- LEADERS -->
<g class="l">
<path d="M375,66 L391,114"/>
<path d="M605.8,84.1 L579.2,111.9"/>
<path d="M684.8,135.4 L660,165.5"/>
<path d="M33.2,261.4 L63.3,296.4"/>
<path d="M880.5,251 L857,281"/>
<path d="M707,275.5 L739,230"/>
<path d="M564.8,460.3 L605,493.8"/>
<path d="M222.3,670.8 L242.5,631.2"/>
</g>

<!-- LABELS -->
<g class="t" font-size="19">
<text x="366.5" y="54.2">2</text>
<text x="615.5" y="73.3">4</text>
<text x="694.8" y="123.2">5</text>
<text x="15.5" y="250.1">1</text>
<text x="890.3" y="239.2">5</text>
<text x="690" y="300.6">6</text>
<text x="616" y="515.3">3</text>
<text x="214.5" y="694.2">1</text>
</g>
<text class="t" x="560" y="669" font-size="18.45">© 2008 Polaris Sales Inc.</text>
</svg>
</body></html>
